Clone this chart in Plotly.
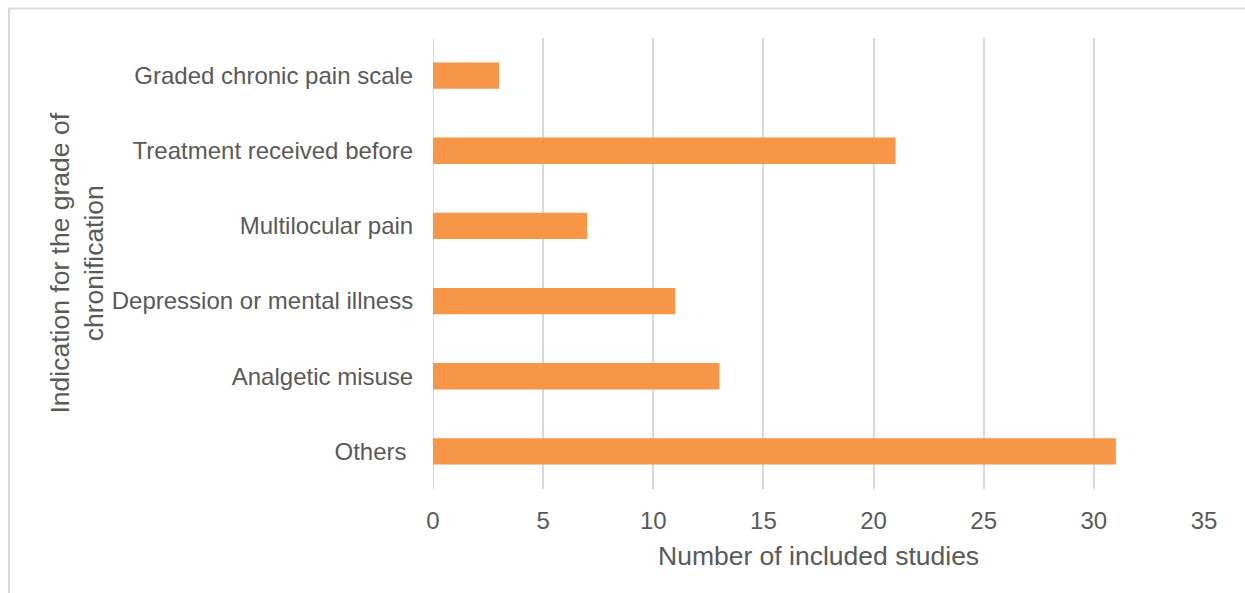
import plotly.graph_objects as go

categories = ["Graded chronic pain scale", "Treatment received before", "Multilocular pain",
              "Depression or mental illness", "Analgetic misuse", "Others "]
values = [3, 21, 7, 11, 13, 31]
x_ticks = [0, 5, 10, 15, 20, 25, 30, 35]

FONT = "Liberation Sans, Arial, sans-serif"
TXT = "#595959"
GRID = "#d9d9d9"

L, R, T, B = 433, 1204, 38.5, 488.5
PW, PH = R - L, B - T

fig = go.Figure(go.Bar(
    y=categories, x=values, orientation="h",
    marker=dict(color="#F79646", line=dict(width=0)),
    width=0.35,
))

fig.update_layout(
    width=1245, height=593,
    margin=dict(l=433, r=41, t=38, b=104),
    paper_bgcolor="white", plot_bgcolor="white",
    font=dict(family=FONT, size=24, color=TXT),
    showlegend=False,
)
fig.update_xaxes(
    range=[0, 35], tickvals=x_ticks, ticktext=[str(v) for v in x_ticks],
    showgrid=True, gridcolor=GRID, gridwidth=2,
    zeroline=False, showline=False,
    ticks="outside", ticklen=10, tickcolor="rgba(0,0,0,0)",
    tickfont=dict(size=24, color=TXT),
)
fig.update_yaxes(
    categoryorder="array", categoryarray=categories[::-1],
    showgrid=False, zeroline=False, showline=False,
    ticks="outside", ticklen=14, tickcolor="rgba(0,0,0,0)",
    tickfont=dict(size=24, color=TXT),
)
# axis titles
fig.add_annotation(text="Number of included studies", xref="paper", yref="paper",
                   x=0.5, y=(B - 555) / PH, showarrow=False,
                   font=dict(size=26.5, color=TXT), xanchor="center", yanchor="middle")
fig.add_annotation(text="Indication for the grade of<br>chronification", xref="paper", yref="paper",
                   x=(76 - L) / PW, y=0.5, showarrow=False, textangle=-90,
                   font=dict(size=26.5, color=TXT), xanchor="center", yanchor="middle")
# zero line drawn as gridline at x=0
fig.add_shape(type="line", xref="x", yref="paper", x0=0, x1=0, y0=0, y1=1,
              line=dict(color=GRID, width=2), layer="below")
# chart border
fig.add_shape(type="rect", xref="paper", yref="paper",
              x0=(9 - L) / PW, x1=(1260 - L) / PW,
              y0=(B - 600) / PH, y1=(B - 9) / PH,
              line=dict(color=GRID, width=2), fillcolor="rgba(0,0,0,0)")

fig.write_html("out.html")
